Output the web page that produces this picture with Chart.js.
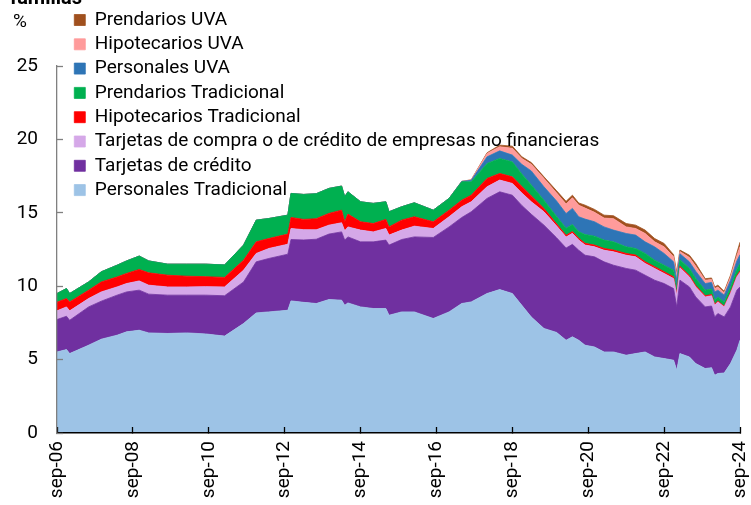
<!DOCTYPE html>
<html>
<head>
<meta charset="utf-8">
<script src="https://cdn.jsdelivr.net/npm/chart.js@4.4.1/dist/chart.umd.min.js"></script>
<style>
  html, body { margin: 0; padding: 0; background: #fff; }
  #wrap { position: relative; width: 751px; height: 505px; overflow: hidden; font-family: Roboto, "Liberation Sans", sans-serif; }
  #titulo { position: absolute; left: 10px; top: -13px; font-size: 20px; font-weight: bold; line-height: 20px; color: #000; }
  #unidad { position: absolute; left: 13px; top: 11px; font-size: 19px; line-height: 20px; color: #000; }
  canvas { position: absolute; left: 0; top: 0; }
</style>
</head>
<body>
<div id="wrap">
  <canvas id="c" width="751" height="505"></canvas>
  <div id="titulo">familias</div>
  <div id="unidad">%</div>
</div>
<script>
// Fechas (meses) de los puntos
const fechas = ["sep-06","dic-06","ene-07","jul-07","nov-07","abr-08","jul-08","nov-08","feb-09","ago-09",
  "feb-10","ago-10","feb-11","ago-11","dic-11","abr-12","oct-12","nov-12","mar-13","jul-13",
  "nov-13","mar-14","abr-14","may-14","sep-14","ene-15","may-15","jun-15","oct-15","feb-16",
  "ago-16","ene-17","may-17","ago-17","ene-18","may-18","sep-18","dic-18","mar-19","jul-19",
  "nov-19","feb-20","abr-20","jun-20","ago-20","nov-20","feb-21","may-21","sep-21","dic-21",
  "mar-22","jun-22","sep-22","dic-22","ene-23","feb-23","may-23","jul-23","oct-23","dic-23",
  "ene-24","feb-24","abr-24","jun-24","ago-24","sep-24"];

const tickLabels = ["sep-06","sep-08","sep-10","sep-12","sep-14","sep-16","sep-18","sep-20","sep-22","sep-24"];

const personalesTradicional = [5.52,5.68,5.41,5.98,6.39,6.66,6.89,7.00,6.82,6.78,
  6.82,6.75,6.60,7.46,8.18,8.25,8.36,9.00,8.90,8.82,
  9.09,9.05,8.70,8.86,8.59,8.48,8.48,8.02,8.25,8.25,
  7.80,8.25,8.82,8.93,9.50,9.77,9.50,8.70,7.90,7.12,
  6.85,6.32,6.55,6.32,5.98,5.86,5.52,5.52,5.30,5.41,
  5.52,5.18,5.07,4.96,4.27,5.41,5.18,4.73,4.39,4.45,
  3.93,4.05,4.09,4.73,5.64,6.32];

const tarjetasCredito = [2.21,2.27,2.27,2.61,2.59,2.73,2.72,2.73,2.64,2.61,
  2.57,2.64,2.75,2.83,3.48,3.64,3.82,4.18,4.25,4.38,
  4.46,4.65,4.44,4.50,4.43,4.54,4.66,4.78,4.93,5.11,
  5.52,5.79,5.86,6.14,6.48,6.66,6.70,6.80,7.00,7.04,
  6.45,6.28,6.30,6.13,6.13,6.14,6.14,5.91,5.91,5.68,
  5.23,5.23,5.11,4.88,4.32,5.00,4.77,4.54,4.20,4.20,
  3.98,4.09,3.82,3.86,4.09,3.63];

const tarjetasEmpresas = [0.59,0.64,0.64,0.57,0.63,0.56,0.57,0.63,0.61,0.56,
  0.56,0.58,0.60,0.80,0.57,0.68,0.68,0.75,0.70,0.64,
  0.61,0.62,0.63,0.68,0.80,0.68,0.79,0.68,0.64,0.73,
  0.61,0.69,0.73,0.68,0.79,0.80,0.80,0.85,0.85,0.91,
  0.80,0.75,0.75,0.69,0.69,0.68,0.79,0.91,0.90,0.91,
  0.80,0.80,0.69,0.68,0.80,0.85,0.68,0.68,0.68,0.70,
  0.79,0.79,0.68,0.91,0.90,1.00];

const hipotecariosTradicional = [0.59,0.57,0.61,0.57,0.68,0.68,0.69,0.78,0.84,0.80,
  0.73,0.68,0.65,0.68,0.79,0.68,0.69,0.75,0.70,0.76,
  0.80,0.86,0.62,0.87,0.57,0.57,0.62,0.56,0.68,0.64,
  0.46,0.45,0.45,0.45,0.57,0.45,0.45,0.45,0.40,0.23,
  0.15,0.12,0.12,0.12,0.12,0.12,0.12,0.12,0.12,0.12,
  0.12,0.12,0.12,0.12,0.10,0.10,0.10,0.10,0.08,0.08,
  0.07,0.07,0.05,0.08,0.08,0.10];

const prendariosTradicional = [0.59,0.68,0.57,0.56,0.69,0.80,0.85,0.91,0.81,0.75,
  0.82,0.85,0.85,1.03,1.48,1.36,1.29,1.64,1.70,1.70,
  1.70,1.64,1.70,1.52,1.36,1.37,1.20,1.03,0.91,0.95,
  0.79,0.80,1.25,0.91,1.02,1.02,1.02,0.85,0.75,0.56,
  0.50,0.48,0.48,0.45,0.60,0.61,0.57,0.56,0.45,0.45,
  0.56,0.44,0.44,0.45,0.35,0.45,0.48,0.47,0.38,0.38,
  0.28,0.27,0.29,0.37,0.45,0.50];

const personalesUVA = [0,0,0,0,0,0,0,0,0,0,
  0,0,0,0,0,0,0,0,0,0,
  0,0,0,0,0,0,0,0,0,0,
  0,0,0.03,0.10,0.45,0.52,0.46,0.65,0.95,0.91,
  1.05,1.00,1.10,1.02,1.05,0.98,0.90,0.80,0.91,0.91,
  0.79,0.91,0.80,0.57,0.57,0.40,0.45,0.50,0.45,0.45,
  0.56,0.46,0.46,0.46,0.56,0.60];

const hipotecariosUVA = [0,0,0,0,0,0,0,0,0,0,
  0,0,0,0,0,0,0,0,0,0,
  0,0,0,0,0,0,0,0,0,0,
  0,0,0,0.03,0.23,0.28,0.46,0.40,0.45,0.57,
  0.55,0.65,0.72,0.79,0.75,0.64,0.60,0.78,0.45,0.45,
  0.57,0.34,0.45,0.34,0.34,0.15,0.30,0.34,0.23,0.20,
  0.23,0.22,0.16,0.22,0.35,0.55];

const prendariosUVA = [0,0,0,0,0,0,0,0,0,0,
  0,0,0,0,0,0,0,0,0,0,
  0,0,0,0,0,0,0,0,0,0,
  0,0,0,0.01,0.05,0.11,0.15,0.12,0.12,0.11,
  0.15,0.18,0.18,0.15,0.20,0.20,0.20,0.20,0.23,0.23,
  0.23,0.23,0.23,0.15,0.20,0.10,0.15,0.19,0.10,0.10,
  0.11,0.12,0.10,0.12,0.20,0.30];

const meses = ["ene","feb","mar","abr","may","jun","jul","ago","sep","oct","nov","dic"];
// posición: meses transcurridos desde sep-06
function mesIndice(f) {
  const [m, a] = f.split("-");
  return (parseInt(a, 10) - 6) * 12 + meses.indexOf(m) - 8;
}
const xs = fechas.map(mesIndice);
const pts = arr => arr.map((v, i) => ({ x: xs[i], y: v }));

const series = [
  { label: "Personales Tradicional", data: personalesTradicional, color: "#9DC3E6" },
  { label: "Tarjetas de crédito", data: tarjetasCredito, color: "#7030A0" },
  { label: "Tarjetas de compra o de crédito de empresas no financieras", data: tarjetasEmpresas, color: "#D5A8E8" },
  { label: "Hipotecarios Tradicional", data: hipotecariosTradicional, color: "#FF0000" },
  { label: "Prendarios Tradicional", data: prendariosTradicional, color: "#00B050" },
  { label: "Personales UVA", data: personalesUVA, color: "#2E75B6" },
  { label: "Hipotecarios UVA", data: hipotecariosUVA, color: "#FF9B9B" },
  { label: "Prendarios UVA", data: prendariosUVA, color: "#A0501E" }
];

const datasets = series.map((s, i) => ({
  label: s.label,
  data: pts(s.data),
  backgroundColor: s.color,
  borderColor: s.color,
  borderWidth: 0.8,
  pointRadius: 0,
  pointHoverRadius: 0,
  tension: 0,
  fill: i === 0 ? "origin" : "-1"
}));

const FONT = "Roboto, 'Liberation Sans', sans-serif";

const legendOnTop = {
  id: "legendOnTop",
  afterInit(chart) {
    const lg = chart.legend;
    if (lg) lg._layers = () => [];
  },
  afterDatasetsDraw(chart) {
    const lg = chart.legend;
    if (!lg) return;
    const dx = 69 - lg.left, dy = 5.2 - lg.top;
    lg.left += dx; lg.right += dx; lg.top += dy; lg.bottom = lg.top + 400;
    lg.draw();
  }
};

new Chart(document.getElementById("c"), {
  type: "line",
  data: { datasets },
  plugins: [legendOnTop],
  options: {
    responsive: false,
    animation: false,
    devicePixelRatio: 1,
    layout: { padding: { top: 66, right: 0, left: 0, bottom: 0 } },
    plugins: {
      tooltip: { enabled: false },
      legend: {
        position: "chartArea",
        align: "start",
        reverse: true,
        labels: {
          boxWidth: 11,
          boxHeight: 11,
          padding: 5.3,
          color: "#000",
          font: { family: FONT, size: 19 }
        }
      }
    },
    scales: {
      x: {
        type: "linear",
        min: 0,
        max: 216,
        afterFit: s => { s.height = 72; s.paddingRight = 11; s.paddingLeft = 0; },
        ticks: {
          stepSize: 24,
          autoSkip: false,
          maxRotation: 90,
          minRotation: 90,
          padding: 14,
          color: "#000",
          font: { family: FONT, size: 19 },
          callback: v => tickLabels[v / 24]
        },
        grid: { display: true, drawOnChartArea: false, drawTicks: true, tickLength: -6, color: "#000", tickWidth: 1.3, z: 1 },
        border: { display: true, color: "#000", width: 1.5, z: 1 }
      },
      y: {
        stacked: true,
        min: 0,
        max: 25,
        afterFit: s => { s.width = 57; s.paddingTop = 0; s.paddingBottom = 0; },
        ticks: {
          stepSize: 5,
          padding: 25,
          color: "#000",
          font: { family: FONT, size: 19 }
        },
        grid: { display: true, drawOnChartArea: false, drawTicks: true, tickLength: -6, color: "#808080", tickWidth: 1.3, z: 1 },
        border: { display: true, color: "#808080", width: 1.3, z: 1 }
      }
    }
  }
});
</script>
</body>
</html>
